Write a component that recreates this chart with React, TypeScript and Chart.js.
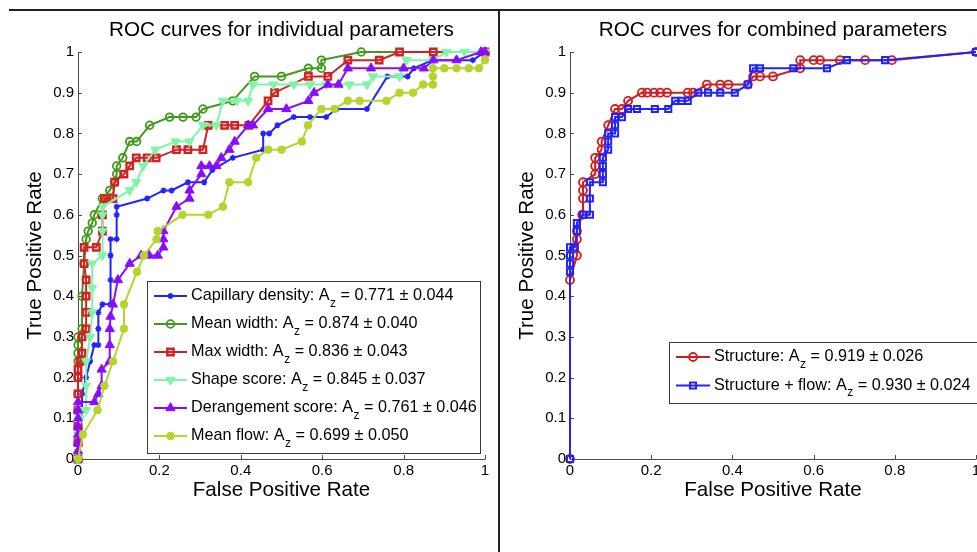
import React, { useEffect, useRef } from 'react';
import { Chart, registerables } from 'chart.js';
import { drawPoint } from 'chart.js/helpers';

Chart.register(...registerables);

const FONT = '"Liberation Sans", Arial, Helvetica, sans-serif';

// ---------- Axis ticks ----------
const xTickValues = [0, 0.2, 0.4, 0.6, 0.8, 1];
const xTickLabels = ['0', '0.2', '0.4', '0.6', '0.8', '1'];
const yTickValues = [0, 0.1, 0.2, 0.3, 0.4, 0.5, 0.6, 0.7, 0.8, 0.9, 1];
const yTickLabels = ['0', '0.1', '0.2', '0.3', '0.4', '0.5', '0.6', '0.7', '0.8', '0.9', '1'];

// ---------- Left chart: individual parameters ----------
const leftTitle = 'ROC curves for individual parameters';
const leftNames = ['Capillary density', 'Mean width', 'Max width', 'Shape score', 'Derangement score', 'Mean flow'];
const leftAz = ['0.771', '0.874', '0.836', '0.845', '0.761', '0.699'];
const leftAzErr = ['0.044', '0.040', '0.043', '0.037', '0.046', '0.050'];

const capFpr = [0, 0, 0, 0.01, 0.01, 0.02, 0.03, 0.04, 0.05, 0.05, 0.05, 0.06, 0.08, 0.08, 0.08, 0.08, 0.095, 0.095, 0.095, 0.17, 0.21, 0.23, 0.27, 0.31, 0.33, 0.38, 0.455, 0.455, 0.47, 0.49, 0.53, 0.57, 0.61, 0.635, 0.71, 0.76, 0.81, 0.825, 0.87, 0.97, 1];
const capTpr = [0, 0.04, 0.08, 0.12, 0.16, 0.2, 0.24, 0.28, 0.28, 0.32, 0.36, 0.38, 0.38, 0.44, 0.5, 0.54, 0.54, 0.6, 0.62, 0.64, 0.66, 0.66, 0.68, 0.68, 0.71, 0.74, 0.76, 0.8, 0.8, 0.82, 0.84, 0.84, 0.84, 0.86, 0.86, 0.94, 0.94, 0.96, 0.98, 0.98, 1];

const mwFpr = [0, 0, 0, 0, 0, 0, 0, 0, 0, 0, 0.01, 0.01, 0.015, 0.02, 0.025, 0.035, 0.04, 0.06, 0.078, 0.09, 0.095, 0.095, 0.11, 0.127, 0.144, 0.176, 0.225, 0.258, 0.29, 0.307, 0.38, 0.434, 0.5, 0.566, 0.598, 0.598, 0.696, 1];
const mwTpr = [0, 0.04, 0.08, 0.12, 0.16, 0.2, 0.24, 0.26, 0.28, 0.3, 0.32, 0.4, 0.48, 0.54, 0.56, 0.58, 0.6, 0.64, 0.66, 0.68, 0.7, 0.72, 0.74, 0.78, 0.78, 0.82, 0.84, 0.84, 0.84, 0.86, 0.88, 0.94, 0.94, 0.96, 0.96, 0.98, 1, 1];

const mxFpr = [0, 0, 0, 0, 0, 0, 0, 0.005, 0.01, 0.01, 0.02, 0.02, 0.02, 0.02, 0.015, 0.015, 0.045, 0.06, 0.06, 0.065, 0.086, 0.09, 0.113, 0.127, 0.143, 0.17, 0.192, 0.242, 0.27, 0.307, 0.32, 0.36, 0.385, 0.42, 0.467, 0.483, 0.566, 0.614, 0.663, 0.74, 0.79, 0.873, 1];
const mxTpr = [0, 0.04, 0.08, 0.12, 0.16, 0.2, 0.22, 0.24, 0.26, 0.3, 0.32, 0.36, 0.4, 0.44, 0.48, 0.52, 0.52, 0.56, 0.6, 0.64, 0.64, 0.68, 0.7, 0.72, 0.74, 0.74, 0.74, 0.76, 0.76, 0.76, 0.82, 0.82, 0.82, 0.82, 0.88, 0.9, 0.94, 0.94, 0.98, 0.98, 1, 1, 1];

const shFpr = [0, 0, 0.005, 0.005, 0.02, 0.02, 0.02, 0.03, 0.035, 0.035, 0.035, 0.06, 0.06, 0.06, 0.061, 0.127, 0.143, 0.16, 0.19, 0.24, 0.274, 0.307, 0.34, 0.356, 0.39, 0.418, 0.43, 0.48, 0.53, 0.57, 0.61, 0.667, 0.71, 0.725, 0.79, 0.807, 0.873, 0.905, 0.95, 1];
const shTpr = [0, 0.06, 0.1, 0.12, 0.12, 0.18, 0.24, 0.3, 0.36, 0.42, 0.48, 0.5, 0.56, 0.6, 0.62, 0.66, 0.68, 0.72, 0.76, 0.78, 0.78, 0.82, 0.82, 0.88, 0.88, 0.88, 0.92, 0.92, 0.92, 0.92, 0.92, 0.92, 0.92, 0.94, 0.94, 0.98, 0.98, 1, 1, 1];

const drFpr = [0, 0, 0, 0, 0, 0, 0, 0, 0.04, 0.05, 0.058, 0.058, 0.078, 0.078, 0.078, 0.08, 0.086, 0.098, 0.127, 0.155, 0.175, 0.196, 0.21, 0.21, 0.21, 0.242, 0.274, 0.274, 0.303, 0.303, 0.323, 0.34, 0.352, 0.372, 0.385, 0.418, 0.43, 0.467, 0.512, 0.566, 0.58, 0.614, 0.64, 0.663, 0.72, 0.8, 0.85, 0.873, 0.93, 0.99, 1];
const drTpr = [0, 0.02, 0.04, 0.06, 0.08, 0.1, 0.12, 0.14, 0.14, 0.16, 0.18, 0.22, 0.24, 0.28, 0.32, 0.35, 0.38, 0.44, 0.48, 0.5, 0.5, 0.5, 0.52, 0.54, 0.56, 0.62, 0.64, 0.66, 0.7, 0.72, 0.72, 0.72, 0.74, 0.76, 0.78, 0.82, 0.82, 0.86, 0.86, 0.88, 0.9, 0.92, 0.92, 0.96, 0.96, 0.96, 0.96, 0.98, 0.98, 1, 1];

const mfFpr = [0, 0.012, 0.048, 0.065, 0.086, 0.113, 0.113, 0.145, 0.162, 0.193, 0.196, 0.257, 0.32, 0.356, 0.372, 0.418, 0.438, 0.467, 0.5, 0.55, 0.565, 0.598, 0.63, 0.663, 0.692, 0.758, 0.79, 0.823, 0.848, 0.872, 0.872, 0.872, 0.9, 0.93, 0.96, 0.985, 1];
const mfTpr = [0, 0.06, 0.12, 0.18, 0.24, 0.32, 0.38, 0.46, 0.5, 0.54, 0.56, 0.6, 0.6, 0.62, 0.68, 0.68, 0.74, 0.76, 0.76, 0.78, 0.82, 0.86, 0.86, 0.88, 0.88, 0.88, 0.9, 0.9, 0.92, 0.92, 0.94, 0.96, 0.96, 0.96, 0.96, 0.96, 0.98];

// ---------- Right chart: combined parameters ----------
const rightTitle = 'ROC curves for combined parameters';
const rightNames = ['Structure', 'Structure + flow'];
const rightAz = ['0.919', '0.930'];
const rightAzErr = ['0.026', '0.024'];

const stFpr = [0, 0, 0.017, 0.017, 0.017, 0.03, 0.032, 0.032, 0.032, 0.062, 0.062, 0.062, 0.078, 0.078, 0.094, 0.111, 0.128, 0.143, 0.177, 0.19, 0.207, 0.222, 0.239, 0.29, 0.303, 0.337, 0.37, 0.39, 0.438, 0.451, 0.468, 0.5, 0.567, 0.567, 0.6, 0.616, 0.665, 0.727, 0.793, 1];
const stTpr = [0, 0.44, 0.5, 0.54, 0.56, 0.6, 0.64, 0.66, 0.68, 0.7, 0.72, 0.74, 0.76, 0.78, 0.82, 0.86, 0.86, 0.88, 0.9, 0.9, 0.9, 0.9, 0.9, 0.9, 0.9, 0.92, 0.92, 0.92, 0.92, 0.94, 0.94, 0.94, 0.96, 0.98, 0.98, 0.98, 0.98, 0.98, 0.98, 1];

const sfFpr = [0, 0, 0, 0, 0, 0.012, 0.017, 0.017, 0.032, 0.049, 0.049, 0.049, 0.081, 0.081, 0.081, 0.081, 0.094, 0.094, 0.094, 0.111, 0.111, 0.111, 0.128, 0.143, 0.165, 0.209, 0.242, 0.259, 0.275, 0.29, 0.316, 0.34, 0.37, 0.406, 0.438, 0.451, 0.468, 0.55, 0.633, 0.682, 0.776, 1];
const sfTpr = [0, 0.46, 0.48, 0.5, 0.52, 0.52, 0.56, 0.58, 0.6, 0.6, 0.64, 0.68, 0.68, 0.7, 0.72, 0.74, 0.76, 0.78, 0.8, 0.8, 0.82, 0.84, 0.84, 0.86, 0.86, 0.86, 0.86, 0.88, 0.88, 0.88, 0.9, 0.9, 0.9, 0.9, 0.92, 0.96, 0.96, 0.96, 0.96, 0.98, 0.98, 1];

// ---------- Styles ----------
type Style = { color: string; fill: string; pointStyle: string; radius: number; rotation: number; pbw: number };
const leftStyles: Style[] = [
  { color: '#2222ff', fill: '#2222ff', pointStyle: 'star', radius: 3, rotation: 0, pbw: 1.5 },
  { color: '#3f9a1c', fill: 'rgba(255,255,255,0)', pointStyle: 'circle', radius: 3.8, rotation: 0, pbw: 1.8 },
  { color: '#d42222', fill: 'rgba(255,255,255,0)', pointStyle: 'rect', radius: 4.5, rotation: 0, pbw: 2.4 },
  { color: '#80f5a8', fill: '#80f5a8', pointStyle: 'triangle', radius: 5.3, rotation: 180, pbw: 1 },
  { color: '#8a0cff', fill: '#8a0cff', pointStyle: 'triangle', radius: 5.3, rotation: 0, pbw: 1 },
  { color: '#b6d42c', fill: '#b6d42c', pointStyle: 'circle', radius: 3.8, rotation: 0, pbw: 1 },
];
const rightStyles: Style[] = [
  { color: '#d41c1c', fill: 'rgba(255,255,255,0)', pointStyle: 'circle', radius: 4, rotation: 0, pbw: 1.8 },
  { color: '#2222ff', fill: 'rgba(255,255,255,0)', pointStyle: 'rect', radius: 4.3, rotation: 0, pbw: 2 },
];

const TITLE_SIZE = 20.7;
const AXIS_TITLE_SIZE = 20.6;
const TICK_SIZE = 15;
const LEGEND_SIZE = 16.2;

function toPoints(xs: number[], ys: number[]) {
  return xs.map((x, i) => ({ x, y: ys[i] }));
}

function makeDatasets(series: number[][][], styles: Style[], names: string[]) {
  const n = series.length;
  return series.map(([xs, ys], i) => {
    const s = styles[i];
    return {
      label: names[i],
      data: toPoints(xs, ys),
      borderColor: s.color,
      backgroundColor: s.fill,
      borderWidth: 2,
      pointStyle: s.pointStyle,
      pointRadius: s.radius,
      pointRotation: s.rotation,
      pointBorderColor: s.color,
      pointBackgroundColor: s.fill,
      pointBorderWidth: s.pbw,
      tension: 0,
      clip: false as any,
      order: n - i,
    };
  });
}

function legendPlugin(cfg: { left: number; top: number; right: number; bottom: number; lineX0: number; lineX1: number; textX: number; rowY: number; rowStep: number; names: string[]; az: string[]; err: string[]; styles: Style[] }) {
  return {
    id: 'rocLegend',
    afterDraw(chart: any) {
      const ctx: CanvasRenderingContext2D = chart.ctx;
      ctx.save();
      ctx.fillStyle = '#ffffff';
      ctx.fillRect(cfg.left, cfg.top, cfg.right - cfg.left, cfg.bottom - cfg.top);
      ctx.strokeStyle = '#3a3a3a';
      ctx.lineWidth = 1;
      ctx.strokeRect(cfg.left + 0.5, cfg.top + 0.5, cfg.right - cfg.left, cfg.bottom - cfg.top);
      cfg.names.forEach((name, i) => {
        const s = cfg.styles[i];
        const y = cfg.rowY + i * cfg.rowStep;
        ctx.strokeStyle = s.color;
        ctx.lineWidth = 2;
        ctx.beginPath();
        ctx.moveTo(cfg.lineX0, y);
        ctx.lineTo(cfg.lineX1, y);
        ctx.stroke();
        ctx.fillStyle = s.fill;
        ctx.strokeStyle = s.color;
        ctx.lineWidth = s.pbw;
        drawPoint(ctx, { pointStyle: s.pointStyle as any, radius: s.radius, rotation: s.rotation, borderWidth: s.pbw } as any, (cfg.lineX0 + cfg.lineX1) / 2, y);
        ctx.fillStyle = '#000';
        ctx.textAlign = 'left';
        ctx.textBaseline = 'middle';
        let x = cfg.textX;
        ctx.font = `${LEGEND_SIZE}px ${FONT}`;
        const t1 = `${name}: A`;
        ctx.fillText(t1, x, y);
        x += ctx.measureText(t1).width;
        ctx.font = `12px ${FONT}`;
        ctx.fillText('z', x + 0.5, y + 7.5);
        x += ctx.measureText('z').width + 0.5;
        ctx.font = `${LEGEND_SIZE}px ${FONT}`;
        ctx.fillText(` = ${cfg.az[i]} \u00B1 ${cfg.err[i]}`, x, y);
      });
      ctx.restore();
    },
  };
}

const axesPlugin = {
  id: 'matlabAxes',
  beforeDatasetsDraw(chart: any) {
    const { ctx, chartArea } = chart;
    const xs = chart.scales.x;
    const ys = chart.scales.y;
    ctx.save();
    ctx.strokeStyle = '#4a4a4a';
    ctx.lineWidth = 1;
    ctx.beginPath();
    ctx.moveTo(chartArea.left + 0.5, chartArea.top);
    ctx.lineTo(chartArea.left + 0.5, chartArea.bottom + 0.5);
    ctx.lineTo(chartArea.right + 0.5, chartArea.bottom + 0.5);
    xTickValues.forEach((v) => {
      const px = Math.round(xs.getPixelForValue(v)) + 0.5;
      ctx.moveTo(px, chartArea.bottom);
      ctx.lineTo(px, chartArea.bottom - 4);
    });
    yTickValues.forEach((v) => {
      const py = Math.round(ys.getPixelForValue(v)) + 0.5;
      ctx.moveTo(chartArea.left, py);
      ctx.lineTo(chartArea.left + 4, py);
    });
    ctx.stroke();
    ctx.restore();
  },
};

function makeConfig(datasets: any[], title: string, yWidth: number, padRight: number, yTitlePad: number, legend: any) {
  const titleLH = TITLE_SIZE * 1.2;
  const titleTop = 30 - titleLH / 2;
  const titleBottom = 52 - titleTop - titleLH;
  const axisLH = AXIS_TITLE_SIZE * 1.2;
  return {
    type: 'line' as const,
    data: { datasets },
    plugins: [axesPlugin, legend],
    options: {
      animation: false as const,
      responsive: false,
      maintainAspectRatio: false,
      events: [],
      layout: { padding: { left: 0, top: 0, right: padRight, bottom: 0 }, autoPadding: false },
      plugins: {
        legend: { display: false },
        tooltip: { enabled: false },
        title: {
          display: true,
          text: title,
          fullSize: false,
          color: '#000',
          font: { family: FONT, size: TITLE_SIZE, weight: 'normal' as const },
          padding: { top: titleTop, bottom: titleBottom },
        },
      },
      scales: {
        x: {
          type: 'linear' as const,
          min: 0,
          max: 1,
          afterFit: (s: any) => { s.height = 93; },
          afterBuildTicks: (s: any) => { s.ticks = xTickValues.map((v) => ({ value: v })); },
          ticks: {
            callback: (_v: any, i: number) => xTickLabels[i],
            color: '#000',
            font: { family: FONT, size: TICK_SIZE },
            padding: 3,
            maxRotation: 0,
            autoSkip: false,
          },
          grid: { display: false, drawTicks: false },
          border: { display: false },
          title: {
            display: true,
            text: 'False Positive Rate',
            color: '#000',
            font: { family: FONT, size: AXIS_TITLE_SIZE },
            padding: { top: 0, bottom: 61.5 - axisLH / 2 },
          },
        },
        y: {
          type: 'linear' as const,
          min: 0,
          max: 1,
          afterFit: (s: any) => { s.width = yWidth; },
          afterBuildTicks: (s: any) => { s.ticks = yTickValues.map((v) => ({ value: v })); },
          ticks: {
            callback: (_v: any, i: number) => yTickLabels[i],
            color: '#000',
            font: { family: FONT, size: TICK_SIZE },
            padding: 4,
            autoSkip: false,
          },
          grid: { display: false, drawTicks: false },
          border: { display: false },
          title: {
            display: true,
            text: 'True Positive Rate',
            color: '#000',
            font: { family: FONT, size: AXIS_TITLE_SIZE },
            padding: { top: yTitlePad - axisLH / 2, bottom: 0 },
          },
        },
      },
    },
  };
}

function RocChart({ width, height, config }: { width: number; height: number; config: () => any }) {
  const ref = useRef<HTMLCanvasElement>(null);
  useEffect(() => {
    if (!ref.current) return;
    const chart = new Chart(ref.current, config());
    return () => chart.destroy();
  }, []);
  return <canvas ref={ref} width={width} height={height} style={{ width, height, display: 'block' }} />;
}

export default function App() {
  const leftConfig = () =>
    makeConfig(
      makeDatasets(
        [[capFpr, capTpr], [mwFpr, mwTpr], [mxFpr, mxTpr], [shFpr, shTpr], [drFpr, drTpr], [mfFpr, mfTpr]],
        leftStyles,
        leftNames
      ),
      leftTitle,
      78,
      14,
      35,
      legendPlugin({ left: 147, top: 281, right: 480, bottom: 453, lineX0: 154, lineX1: 187, textX: 191, rowY: 296, rowStep: 28, names: leftNames, az: leftAz, err: leftAzErr, styles: leftStyles })
    );
  const rightConfig = () =>
    makeConfig(
      makeDatasets([[stFpr, stTpr], [sfFpr, sfTpr]], rightStyles, rightNames),
      rightTitle,
      70,
      44,
      27,
      legendPlugin({ left: 169, top: 342, right: 530, bottom: 403, lineX0: 176, lineX1: 210, textX: 214, rowY: 357, rowStep: 28.5, names: rightNames, az: rightAz, err: rightAzErr, styles: rightStyles })
    );
  return (
    <div style={{ position: 'fixed', left: 0, top: 0, width: 977, height: 552, overflow: 'hidden', background: '#fff' }}>
      <div style={{ position: 'absolute', left: 0, top: 0 }}>
        <RocChart width={499} height={552} config={leftConfig} />
      </div>
      <div style={{ position: 'absolute', left: 500, top: 0 }}>
        <RocChart width={520} height={552} config={rightConfig} />
      </div>
      <div style={{ position: 'absolute', left: 9, top: 9, width: 968, height: 2, background: '#222' }} />
      <div style={{ position: 'absolute', left: 498, top: 9, width: 2, height: 543, background: '#222' }} />
    </div>
  );
}
